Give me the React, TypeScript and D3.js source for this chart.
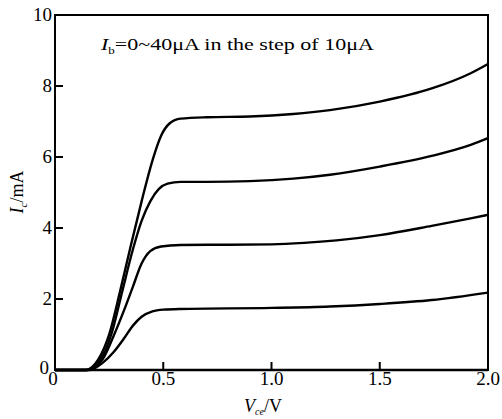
import React, { useEffect, useRef } from 'react';
import * as d3 from 'd3';

// Vce (V) and Ic (mA), one pair of arrays per base current
const ib0V = [0, 2.0];
const ib0I = [0, 0];

const ib10V = [0, 0.16, 0.22, 0.27, 0.32, 0.36, 0.4, 0.45, 0.5, 0.58, 1.0, 1.27, 1.5, 1.74, 2.0];
const ib10I = [0, 0, 0.2, 0.5, 0.9, 1.25, 1.5, 1.65, 1.7, 1.72, 1.75, 1.79, 1.86, 1.97, 2.18];

const ib20V = [0, 0.15, 0.22, 0.27, 0.32, 0.36, 0.4, 0.44, 0.49, 0.58, 0.8, 1.0, 1.15, 1.3, 1.5, 1.74, 1.92, 2.0];
const ib20I = [0, 0, 0.3, 0.95, 1.7, 2.35, 3.0, 3.35, 3.48, 3.52, 3.53, 3.54, 3.58, 3.65, 3.8, 4.06, 4.27, 4.37];

const ib30V = [0, 0.145, 0.21, 0.26, 0.31, 0.36, 0.4, 0.44, 0.48, 0.52, 0.58, 0.7, 0.9, 1.1, 1.27, 1.5, 1.74, 1.92, 2.0];
const ib30I = [0, 0, 0.3, 1.0, 2.2, 3.4, 4.2, 4.75, 5.1, 5.25, 5.3, 5.3, 5.32, 5.39, 5.5, 5.73, 6.03, 6.34, 6.53];

const ib40V = [0, 0.14, 0.2, 0.25, 0.3, 0.35, 0.4, 0.45, 0.49, 0.53, 0.58, 0.7, 0.9, 1.1, 1.27, 1.5, 1.74, 1.92, 2.0];
const ib40I = [0, 0, 0.3, 1.0, 2.2, 3.5, 4.75, 5.9, 6.6, 6.95, 7.08, 7.12, 7.14, 7.21, 7.32, 7.56, 7.93, 8.36, 8.62];

const xTicks = [0, 0.5, 1.0, 1.5, 2.0];
const xTickLabels = ['0', '0.5', '1.0', '1.5', '2.0'];
const yTicks = [0, 2, 4, 6, 8, 10];
const yTickLabels = ['0', '2', '4', '6', '8', '10'];

const App = () => {
  const svgRef = useRef<SVGSVGElement>(null);
  const width = 502;
  const height = 419;

  useEffect(() => {
    const svg = d3.select(svgRef.current);
    svg.selectAll('*').remove();

    const left = 55, right = 488, top = 15, bottom = 370;
    const font = '"Liberation Serif", "Times New Roman", serif';

    const x = d3.scaleLinear().domain([0, 2]).range([left, right]);
    const y = d3.scaleLinear().domain([0, 10]).range([bottom, top]);

    // frame
    svg.append('rect')
      .attr('x', left).attr('y', top)
      .attr('width', right - left).attr('height', bottom - top)
      .attr('fill', 'none').attr('stroke', '#000').attr('stroke-width', 2);

    // inward ticks
    const tickLen = 8;
    svg.append('g').selectAll('line')
      .data(xTicks.slice(1, -1))
      .enter().append('line')
      .attr('x1', d => x(d)).attr('x2', d => x(d))
      .attr('y1', bottom).attr('y2', bottom - tickLen)
      .attr('stroke', '#000').attr('stroke-width', 2);

    svg.append('g').selectAll('line')
      .data(yTicks.slice(1, -1))
      .enter().append('line')
      .attr('x1', left).attr('x2', left + tickLen)
      .attr('y1', d => y(d)).attr('y2', d => y(d))
      .attr('stroke', '#000').attr('stroke-width', 2);

    // tick labels
    svg.append('g').selectAll('text')
      .data(xTicks)
      .enter().append('text')
      .attr('x', d => x(d) - (d === 0 ? 2 : 0))
      .attr('y', bottom + 15)
      .attr('text-anchor', 'middle')
      .style('font-family', font)
      .style('font-size', '19px')
      .text((d, i) => xTickLabels[i]);

    svg.append('g').selectAll('text')
      .data(yTicks)
      .enter().append('text')
      .attr('x', d => (d === 0 ? left - 6 : left - 3))
      .attr('y', d => y(d) + (d === 0 ? 4 : 6))
      .attr('text-anchor', 'end')
      .style('font-family', font)
      .style('font-size', '19px')
      .text((d, i) => yTickLabels[i]);

    // axis titles
    const xl = svg.append('text')
      .attr('x', 263).attr('y', 412)
      .attr('text-anchor', 'middle')
      .style('font-family', font)
      .style('font-size', '18px');
    xl.append('tspan').style('font-style', 'italic').text('V');
    xl.append('tspan').attr('dy', 3).style('font-size', '10px').style('font-style', 'italic').text('ce');
    xl.append('tspan').attr('dy', -3).text('/V');

    const yl = svg.append('text')
      .attr('transform', 'translate(23,192) rotate(-90)')
      .attr('text-anchor', 'middle')
      .style('font-family', font)
      .style('font-size', '18px');
    yl.append('tspan').style('font-style', 'italic').text('I');
    yl.append('tspan').attr('dy', 4).style('font-size', '11px').style('font-style', 'italic').text('c');
    yl.append('tspan').attr('dy', -4).text('/mA');

    // annotation
    const note = svg.append('text')
      .attr('x', 101).attr('y', 50)
      .attr('textLength', 273)
      .attr('lengthAdjust', 'spacingAndGlyphs')
      .style('font-family', font)
      .style('font-size', '17px');
    note.append('tspan').style('font-style', 'italic').text('I');
    note.append('tspan').attr('dy', 4).style('font-size', '10px').text('b');
    note.append('tspan').attr('dy', -4).text('=0~40\u03bcA in the step of 10\u03bcA');

    // curves
    const series = [
      [ib0V, ib0I],
      [ib10V, ib10I],
      [ib20V, ib20I],
      [ib30V, ib30I],
      [ib40V, ib40I],
    ];

    const line = d3.line<[number, number]>()
      .x(d => x(d[0]))
      .y(d => y(d[1]))
      .curve(d3.curveMonotoneX);

    series.forEach(([vs, is]) => {
      const pts = vs.map((v, i) => [v, is[i]] as [number, number]);
      svg.append('path')
        .attr('d', line(pts))
        .attr('fill', 'none')
        .attr('stroke', '#000')
        .attr('stroke-width', 2.4);
    });
  }, []);

  return (
    <svg
      ref={svgRef}
      width={width}
      height={height}
      style={{ position: 'absolute', left: 0, top: 0, background: '#fff' }}
    ></svg>
  );
};

export default App;
